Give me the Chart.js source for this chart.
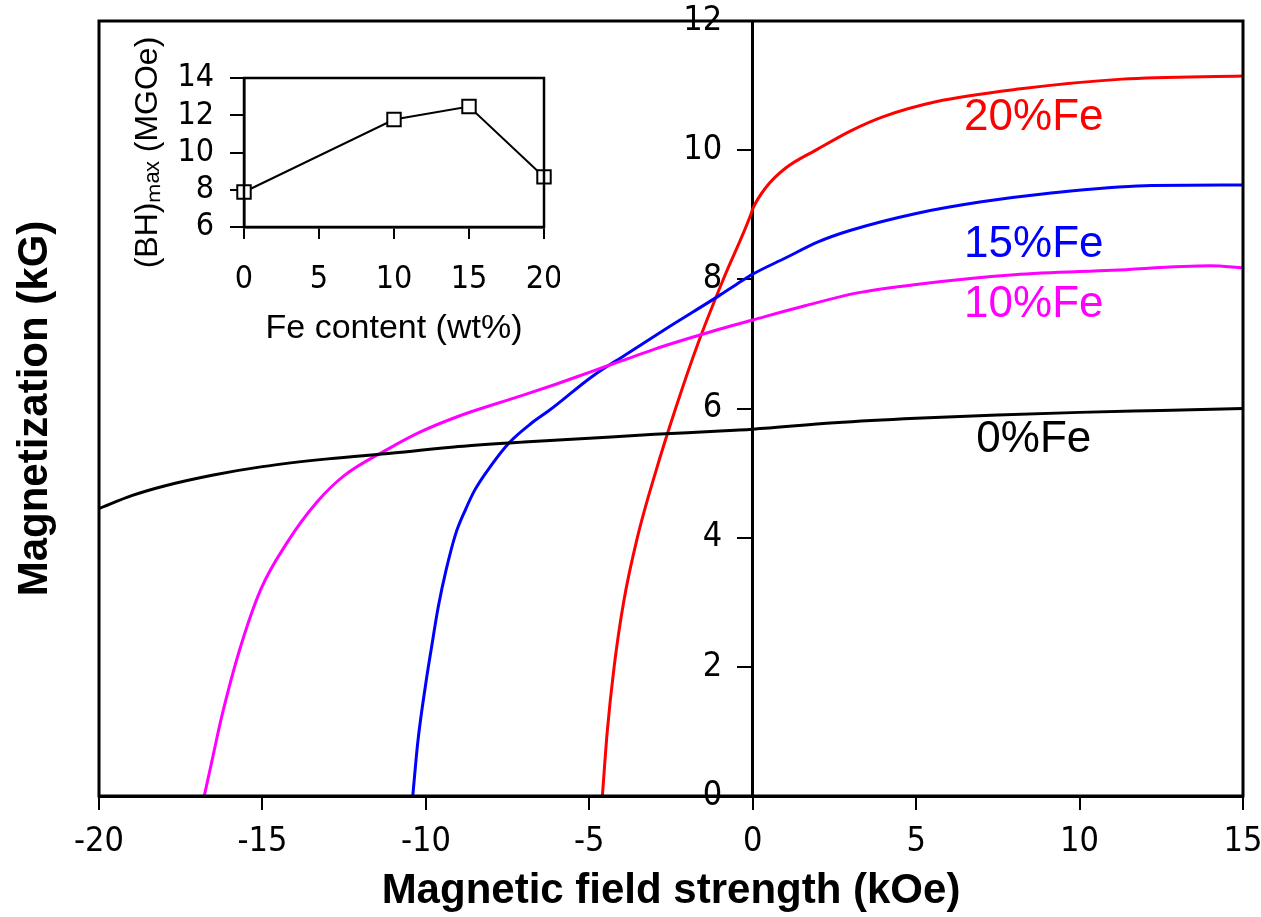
<!DOCTYPE html>
<html>
<head>
<meta charset="utf-8">
<script src="https://cdn.jsdelivr.net/npm/chart.js@4.4.1/dist/chart.umd.min.js"></script>
<style>
  html, body { margin: 0; padding: 0; background: #fff; }
  #wrap { position: relative; width: 1261px; height: 917px; }
  #main { position: absolute; left: 0; top: 0; }
  #inset { position: absolute; left: 110px; top: 30px; }
</style>
</head>
<body>
<div id="wrap">
  <canvas id="main" width="1261" height="917"></canvas>
  <canvas id="inset" width="450" height="340"></canvas>
</div>
<script>
// demagnetization curves: [field kOe, magnetization kG]
const curve0Fe = [[-20,4.45],[-19,4.65],[-18,4.8],[-16.5,4.97],[-15,5.1],[-13,5.22],[-11,5.31],[-9,5.41],
  [-7,5.48],[-5,5.54],[-3,5.6],[-1,5.65],[0,5.68],[2.5,5.78],[5,5.85],[7.5,5.9],[10,5.94],[12.5,5.97],[15,6.0]];
const curve10Fe = [[-16.78,0],[-16.52,0.6],[-16.25,1.22],[-15.7,2.26],[-15.05,3.2],[-14.25,3.92],
  [-13.35,4.54],[-12.5,4.96],[-11.2,5.36],[-10.2,5.63],[-9,5.88],[-8,6.05],[-7,6.21],[-6,6.38],[-5,6.56],
  [-4,6.74],[-3,6.92],[-2,7.08],[-1,7.23],[0,7.37],[1.6,7.59],[3.2,7.79],[5,7.92],[8,8.07],[11,8.14],
  [14,8.21],[15,8.18]];
const curve15Fe = [[-10.4,0],[-10.25,0.82],[-10,1.75],[-9.84,2.26],[-9.62,2.93],[-9.38,3.5],[-9.08,4.07],
  [-8.8,4.42],[-8.5,4.74],[-8,5.12],[-7.45,5.47],[-6.8,5.76],[-6.2,5.98],[-4.9,6.5],[-3.9,6.83],[-2.7,7.22],
  [-1.05,7.74],[-0.5,7.92],[0,8.08],[1,8.33],[2,8.58],[3,8.76],[5,9.02],[7,9.2],[9,9.33],[12,9.45],[15,9.46]];
const curve20Fe = [[-4.6,0],[-4.45,1],[-4.24,2],[-3.95,3],[-3.53,4],[-2.98,5],[-2.36,6],[-1.68,7],[-0.9,8],
  [-0.06,9],[0,9.09],[0.4,9.42],[1,9.72],[2,10.02],[3,10.3],[4,10.52],[5.6,10.75],[8.2,10.95],[11.3,11.1],
  [15,11.15]];

const seriesNames = ['0%Fe', '10%Fe', '15%Fe', '20%Fe'];
const seriesColors = ['#000000', '#ff00ff', '#0000ff', '#ff0000'];
// curve labels, anchored in data units
const labelField = [8.6, 8.6, 8.6, 8.6];
const labelMag = [5.52, 7.61, 8.54, 10.5];

const xTicks = [-20, -15, -10, -5, 0, 5, 10, 15];
const yTicks = [0, 2, 4, 6, 8, 10, 12];

// inset: (BH)max vs Fe content
const feContent = [0, 10, 15, 20];
const bhMax = [7.88, 11.77, 12.47, 8.69];

const NARROW = "'Liberation Sans Narrow', 'DejaVu Sans Condensed', Arial, sans-serif";
const SANS = "'Liberation Sans', Arial, sans-serif";

const frame = {
  id: 'frame',
  afterDraw(chart, args, opts) {
    const a = chart.chartArea, ctx = chart.ctx;
    ctx.save();
    ctx.strokeStyle = '#000';
    ctx.lineWidth = opts.width || 3;
    ctx.strokeRect(a.left, a.top, a.right - a.left, a.bottom - a.top);
    ctx.restore();
  }
};

const curveLabels = {
  id: 'curveLabels',
  afterDatasetsDraw(chart) {
    const ctx = chart.ctx, xs = chart.scales.x, ys = chart.scales.y;
    ctx.save();
    ctx.font = '44px ' + SANS;
    ctx.textAlign = 'center';
    ctx.textBaseline = 'middle';
    seriesNames.forEach((n, i) => {
      ctx.fillStyle = seriesColors[i];
      ctx.fillText(n, xs.getPixelForValue(labelField[i]), ys.getPixelForValue(labelMag[i]));
    });
    ctx.restore();
  }
};

// keep tick-label overflow from moving the plot box
const noPadX = s => { s.paddingLeft = 0; s.paddingRight = 0; };
const noPadY = s => { s.paddingTop = 0; s.paddingBottom = 0; };

const curves = [curve0Fe, curve10Fe, curve15Fe, curve20Fe];

new Chart(document.getElementById('main'), {
  type: 'line',
  data: {
    datasets: curves.map((c, i) => ({
      label: seriesNames[i],
      data: c.map(p => ({ x: p[0], y: p[1] })),
      borderColor: seriesColors[i],
      borderWidth: 3,
      pointRadius: 0,
      cubicInterpolationMode: 'monotone',
      fill: false
    }))
  },
  options: {
    responsive: false,
    animation: false,
    layout: { padding: { top: 21, right: 18, bottom: 0, left: 0 } },
    plugins: {
      legend: { display: false },
      tooltip: { enabled: false },
      frame: { width: 3 }
    },
    scales: {
      x: {
        type: 'linear', position: 'bottom', min: -20, max: 15,
        afterBuildTicks: s => { s.ticks = xTicks.map(v => ({ value: v })); },
        afterFit: s => { s.height = 121; noPadX(s); },
        ticks: { color: '#000', font: { family: NARROW, size: 34 }, padding: 12, maxRotation: 0 },
        grid: { drawOnChartArea: false, tickLength: 14, color: '#000', lineWidth: 2 },
        border: { color: '#000', width: 3 },
        title: { display: true, text: 'Magnetic field strength (kOe)', color: '#000',
          font: { family: SANS, size: 42, weight: 'bold' }, padding: { top: 0, bottom: 0 } }
      },
      yt: {
        type: 'linear', position: 'left', min: 0, max: 12,
        afterFit: s => { s.width = 99; noPadY(s); },
        ticks: { display: false },
        grid: { display: false },
        border: { display: false },
        title: { display: true, text: 'Magnetization (kG)', color: '#000',
          font: { family: SANS, size: 42, weight: 'bold' }, padding: { top: 10, bottom: 0 } }
      },
      y: {
        type: 'linear', position: { x: 0 }, min: 0, max: 12,
        afterBuildTicks: s => { s.ticks = yTicks.map(v => ({ value: v })); },
        afterFit: noPadY,
        // labels of an axis placed at x=0 sit on the line; an em space keeps them clear of the ticks
        ticks: { color: '#000', font: { family: NARROW, size: 34 }, callback: v => v + '\u2003' },
        grid: { drawOnChartArea: false, tickLength: 14, color: '#000', lineWidth: 2 },
        border: { color: '#000', width: 3 }
      }
    }
  },
  plugins: [frame, curveLabels]
});

new Chart(document.getElementById('inset'), {
  type: 'line',
  data: {
    datasets: [{
      data: feContent.map((f, i) => ({ x: f, y: bhMax[i] })),
      borderColor: '#000',
      borderWidth: 2,
      pointStyle: 'rect',
      pointRadius: 9.5,
      pointBorderWidth: 2,
      pointBackgroundColor: '#fff',
      pointBorderColor: '#000',
      clip: false,
      fill: false
    }]
  },
  options: {
    responsive: false,
    animation: false,
    layout: { padding: { top: 48, right: 16, bottom: 0, left: 0 } },
    plugins: { legend: { display: false }, tooltip: { enabled: false }, frame: { width: 2.5 } },
    scales: {
      x: {
        type: 'linear', min: 0, max: 20,
        afterFit: s => { s.height = 143; noPadX(s); },
        ticks: { stepSize: 5, color: '#000', font: { family: NARROW, size: 32 }, padding: 21, maxRotation: 0 },
        grid: { drawOnChartArea: false, tickLength: 12, color: '#000', lineWidth: 2 },
        border: { color: '#000', width: 2.5 },
        title: { display: true, text: 'Fe content (wt%)', color: '#000',
          font: { family: SANS, size: 34 }, padding: { top: 0, bottom: 21 } }
      },
      y: {
        type: 'linear', min: 6, max: 14,
        afterFit: s => { s.width = 134; noPadY(s); },
        ticks: { stepSize: 2, autoSkip: false, color: '#000', font: { family: NARROW, size: 32 }, padding: 16 },
        grid: { drawOnChartArea: false, tickLength: 14, color: '#000', lineWidth: 2 },
        border: { color: '#000', width: 2.5 },
        title: { display: true, text: '(BH)\u2098\u2090\u2093 (MGOe)', color: '#000',
          font: { family: SANS, size: 32 }, padding: { top: 19, bottom: 0 } }
      }
    }
  },
  plugins: [frame]
});
</script>
</body>
</html>
